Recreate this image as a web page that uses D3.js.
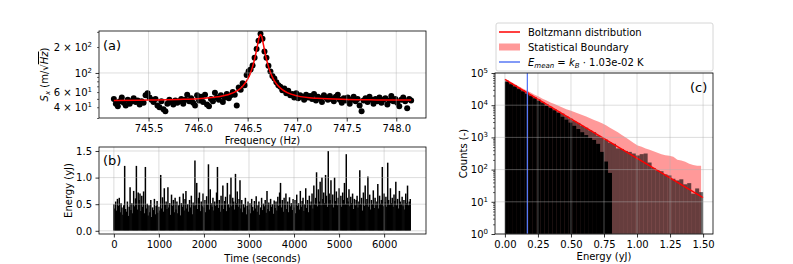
<!DOCTYPE html>
<html lang="en">
<head>
<meta charset="UTF-8">
<title>Resonance, energy trace and energy histogram</title>
<script src="https://d3js.org/d3.v7.min.js"></script>
<style>
  body { margin: 0; background: #fff; }
  svg { display: block; font-family: "DejaVu Sans", sans-serif; }
</style>
</head>
<body>
<svg id="fig" width="793" height="264"></svg>
<script>
// ---------- (a) spectrum around the resonance ----------
const specStart = 745.15;   // first frequency bin (Hz)
const specStep = 0.02;      // bin spacing (Hz)
const specValue = [
  50,44,41,47,52,45,42,49,44,47,
  51,46,48,43,47,45,55,58,52,49,
  46,50,42,40,47,38,36,44,49,46,
  43,48,45,47,50,44,49,56,47,51,
  45,42,55,48,53,46,56,43,41,50,
  47,59,52,49,55,46,52,57,51,55,
  60,56,42,68,64,76,72,95,105,110,
  122,150,190,236,285,250,178,150,121,104,
  92,86,78,72,69,63,66,58,62,55,
  57,52,58,51,55,53,49,56,52,54,
  50,57,48,53,51,46,55,52,49,54,
  50,47,53,56,49,45,51,48,52,44,
  49,53,47,50,42,36,48,51,46,53,
  49,44,50,47,52,45,49,51,43,48,
  54,47,50,45,41,49,52,47,39,50,
  48
];
// fitted curve
const fitFreq = [745.15,745.5,745.8,746.0,746.2,746.3,746.4,746.45,746.5,746.53,746.56,746.58,746.6,746.62,746.63,
                 746.64,746.66,746.68,746.7,746.73,746.76,746.8,746.85,746.9,747.0,747.2,747.5,747.8,748.15];
const fitValue = [47.9,48.5,49.2,50.1,52.9,55.8,62.7,70.2,84.7,100.9,129.7,162.3,212,269,280,
                  269,212,162,130,101,84.7,72.3,63.9,59.1,54.2,50.7,49.2,48.7,48.4];
const freqTicks = [745.5,746.0,746.5,747.0,747.5,748.0];

// ---------- (b) energy trace ----------
const traceStep = 20;  // seconds between samples
const energyValues = [
  0.50,0.42,0.55,0.38,0.60,0.47,0.62,0.35,0.52,0.44,
  0.30,0.48,1.22,0.41,0.36,0.55,0.28,0.45,0.82,0.39,
  0.52,0.33,0.75,0.46,0.61,1.22,0.40,0.72,0.58,0.70,
  0.37,0.66,0.45,0.74,0.33,1.20,0.42,0.51,0.29,0.48,
  0.35,0.58,0.26,0.44,0.39,0.60,0.31,0.47,0.56,0.34,
  0.45,0.38,1.05,0.42,0.63,0.36,0.80,0.49,0.55,0.41,
  0.82,0.44,0.52,0.30,0.68,0.47,0.58,0.35,0.62,0.40,
  0.55,0.33,0.48,0.64,0.29,0.52,0.45,0.70,0.38,0.60,
  0.75,0.42,0.50,0.36,0.58,0.44,0.66,0.31,0.53,0.47,
  1.32,0.48,0.90,0.41,0.62,0.72,0.37,0.55,0.46,0.70,
  0.44,0.58,0.35,0.65,0.49,1.25,0.40,0.78,0.52,0.45,
  0.62,0.38,0.55,0.47,0.72,1.20,0.43,0.58,0.36,0.66,
  0.48,0.85,0.41,0.56,0.64,0.37,0.90,0.50,0.44,0.68,
  1.00,0.46,0.62,0.55,0.40,1.07,0.52,0.74,0.45,0.60,
  0.95,0.42,0.58,0.35,0.50,0.44,0.62,0.31,0.47,0.55,
  0.40,0.52,0.33,0.60,0.45,0.38,0.56,0.42,0.65,0.36,
  0.48,0.55,0.30,0.44,0.62,0.39,0.51,0.46,0.58,0.34,
  0.75,0.41,0.53,0.37,0.60,0.45,0.50,0.32,0.57,0.43,
  0.55,0.38,0.64,0.47,0.72,0.90,0.44,0.58,0.36,0.62,
  0.49,0.70,0.41,0.55,0.35,0.63,0.46,0.52,0.39,0.60,
  0.44,0.58,0.33,0.68,0.47,0.52,0.40,0.75,0.45,0.56,
  0.62,0.37,0.50,0.80,0.43,0.58,0.35,0.66,0.48,0.55,
  0.70,0.42,0.85,0.50,0.62,1.10,0.46,0.78,0.55,0.92,
  0.48,1.00,0.60,0.72,0.52,1.05,0.66,0.45,1.50,0.70,
  0.58,0.95,0.50,0.68,0.44,1.00,0.56,0.74,0.48,0.62,
  0.80,0.52,0.66,0.45,0.72,0.58,0.90,0.50,1.44,0.62,
  0.55,0.78,0.46,0.64,0.52,0.70,0.41,0.60,0.48,0.58,
  0.66,0.44,0.55,1.14,0.50,0.62,0.38,0.72,0.47,0.85,
  0.52,0.60,1.02,0.45,0.68,0.40,0.58,0.50,0.76,0.43,
  0.62,0.48,0.55,0.88,0.42,0.66,0.51,0.58,1.20,0.46,
  0.70,0.54,0.64,0.45,1.28,0.58,0.49,0.80,0.52,0.62,
  0.45,0.68,0.56,0.92,0.48,0.60,0.42,0.75,0.55,0.50,
  0.64,0.46,0.58,0.40,0.70,0.52,0.85,0.48,0.55,0.60
];
const timeTicks = [0,1000,2000,3000,4000,5000,6000];
const energyTicks = [0,0.5,1.0,1.5];

// ---------- (c) energy histogram ----------
const binWidth = 0.03;  // yJ
const histAll = [57500,49000,41700,34700,29500,25100,20900,17800,15100,12600,
  10700,8910,7590,6310,5500,4570,3890,3240,2820,2290,
  2000,1660,1450,1150,1000,851,692,631,457,437,
  380,355,316,275,302,316,166,112,95,89,
  71,66,52,46,50,35,38,18,26,20];
const histLow = [52500,44700,38000,31600,26900,22400,19100,16200,13500,11500,
  9550,8130,6920,5750,4370,3550,2880,2290,1820,1450,
  1180,977,832,631,355,178,79,0,0,0,
  0,0,0,0,0,0,0,0,0,0,
  0,0,0,0,0,0,0,0,0,0];
const bandUpper = [61700,53100,45300,38700,33100,28600,24700,21300,18500,16000,
  14100,12200,10800,9530,8430,7450,6800,6100,5500,4950,
  4450,3950,3500,3100,2750,2400,2000,1700,1450,1180,
  1000,809,667,564,509,451,417,369,334,302,
  280,271,251,203,192,174,153,139,132,131];
const boltzE = [0, 1.5];
const boltzN = [63000, 13.5];
const meanEnergy = 0.17;
const histXTicks = [0,0.25,0.5,0.75,1.0,1.25,1.5];
const histYTicks = [1,10,100,1000,10000,100000];

// ---------- helpers ----------
const fig = d3.select("#fig");
const FONT = "DejaVu Sans, sans-serif";
const GRID = "#b0b0b0";

function clip(id, box) {
  fig.append("clipPath").attr("id", id).append("rect")
    .attr("x", box.l).attr("y", box.t).attr("width", box.r - box.l).attr("height", box.b - box.t);
}
function spines(box) {
  fig.append("rect").attr("x", box.l).attr("y", box.t)
    .attr("width", box.r - box.l).attr("height", box.b - box.t)
    .attr("fill", "none").attr("stroke", "#000").attr("stroke-width", 0.8);
}
function grid(box, x, y, xs, ys) {
  const g = fig.append("g").attr("stroke", GRID).attr("stroke-opacity", 0.55).attr("stroke-width", 0.8);
  g.selectAll(".gx").data(xs).join("line")
    .attr("x1", d => x(d)).attr("x2", d => x(d)).attr("y1", box.t).attr("y2", box.b);
  g.selectAll(".gy").data(ys).join("line")
    .attr("y1", d => y(d)).attr("y2", d => y(d)).attr("x1", box.l).attr("x2", box.r);
}
function styleAxis(g, width) {
  g.attr("font-family", FONT).attr("font-size", 10);
  g.select(".domain").remove();
  g.selectAll(".tick line").attr("stroke-width", width || 0.8);
}
function powLabel(text, mant, exp) {
  text.text(null);
  text.append("tspan").text(mant ? mant + " \u00d7 10" : "10");
  text.append("tspan").attr("dy", -4).attr("font-size", 7).text(exp);
}

// ========== panel (a) ==========
const boxA = {l: 99, r: 426, t: 31, b: 118};
const xA = d3.scaleLinear().domain([745.0, 748.3]).range([boxA.l, boxA.r]);
const yA = d3.scaleLog().domain([30, 307]).range([boxA.b, boxA.t]);
clip("clipA", boxA);

const specPts = specValue.map((v, i) => ({f: specStart + i * specStep, v}));
fig.append("g").attr("clip-path", "url(#clipA)")
  .selectAll("circle").data(specPts).join("circle")
  .attr("cx", d => xA(d.f)).attr("cy", d => yA(d.v)).attr("r", 3).attr("fill", "#000");

fig.append("path").attr("clip-path", "url(#clipA)")
  .datum(fitFreq.map((f, i) => [f, fitValue[i]]))
  .attr("fill", "none").attr("stroke", "red").attr("stroke-width", 1.5)
  .attr("d", d3.line().x(d => xA(d[0])).y(d => yA(d[1])).curve(d3.curveMonotoneX));

grid(boxA, xA, yA, freqTicks, [100]);
spines(boxA);

const axA = fig.append("g").attr("transform", `translate(0,${boxA.b})`)
  .call(d3.axisBottom(xA).tickValues(freqTicks).tickFormat(d3.format(".1f")).tickSize(3.5).tickPadding(3.5));
styleAxis(axA);

const yLabA = [[100, null, "2"], [200, "2", "2"], [60, "6", "1"], [40, "4", "1"]];
const ayA = fig.append("g").attr("transform", `translate(${boxA.l},0)`)
  .call(d3.axisLeft(yA).tickValues(yLabA.map(d => d[0])).tickSize(3.5).tickPadding(3.5));
styleAxis(ayA);
ayA.selectAll(".tick text").each(function (d) {
  const e = yLabA.find(q => q[0] === d);
  powLabel(d3.select(this), e[1], e[2]);
});
ayA.selectAll(".tick line").filter(d => d !== 100).attr("x2", -2).attr("stroke-width", 0.6);
const minorA = fig.append("g").attr("transform", `translate(${boxA.l},0)`)
  .call(d3.axisLeft(yA).tickValues([30, 50, 70, 80, 90, 300]).tickSize(2).tickFormat(""));
styleAxis(minorA, 0.6);

fig.append("text").attr("x", 103).attr("y", 50).attr("font-size", 13).attr("font-family", FONT).text("(a)");
fig.append("text").attr("x", (boxA.l + boxA.r) / 2).attr("y", 144).attr("text-anchor", "middle")
  .attr("font-size", 10).attr("font-family", FONT).text("Frequency (Hz)");
const ylA = fig.append("text").attr("transform", `translate(48,${(boxA.t + boxA.b) / 2}) rotate(-90)`)
  .attr("text-anchor", "middle").attr("font-size", 10).attr("font-family", FONT);
ylA.append("tspan").attr("font-style", "italic").text("S");
ylA.append("tspan").attr("font-style", "italic").attr("font-size", 7).attr("dy", 2).text("x");
ylA.append("tspan").attr("dy", -2).text(" (m/\u221a");
ylA.append("tspan").attr("font-style", "italic").style("text-decoration", "overline").text("Hz");
ylA.append("tspan").text(")");

// ========== panel (b) ==========
const boxB = {l: 99, r: 426, t: 147, b: 234};
const xB = d3.scaleLinear().domain([-330, 6930]).range([boxB.l, boxB.r]);
const yB = d3.scaleLinear().domain([-0.06, 1.575]).range([boxB.b, boxB.t]);
clip("clipB", boxB);

fig.append("g").attr("clip-path", "url(#clipB)")
  .selectAll("line").data(energyValues).join("line")
  .attr("x1", (d, i) => xB(i * traceStep)).attr("x2", (d, i) => xB(i * traceStep))
  .attr("y1", yB(0)).attr("y2", d => yB(d))
  .attr("stroke", "#000").attr("stroke-width", 1.5);

grid(boxB, xB, yB, timeTicks, energyTicks);
spines(boxB);

const axB = fig.append("g").attr("transform", `translate(0,${boxB.b})`)
  .call(d3.axisBottom(xB).tickValues(timeTicks).tickFormat(d3.format("d")).tickSize(3.5).tickPadding(3.5));
styleAxis(axB);
const ayB = fig.append("g").attr("transform", `translate(${boxB.l},0)`)
  .call(d3.axisLeft(yB).tickValues(energyTicks).tickFormat(d3.format(".1f")).tickSize(3.5).tickPadding(3.5));
styleAxis(ayB);

fig.append("text").attr("x", 103).attr("y", 165).attr("font-size", 13).attr("font-family", FONT).text("(b)");
fig.append("text").attr("x", (boxB.l + boxB.r) / 2).attr("y", 262).attr("text-anchor", "middle")
  .attr("font-size", 10).attr("font-family", FONT).text("Time (seconds)");
fig.append("text").attr("transform", `translate(72,${(boxB.t + boxB.b) / 2}) rotate(-90)`)
  .attr("text-anchor", "middle").attr("font-size", 10).attr("font-family", FONT).text("Energy (yJ)");

// ========== panel (c) ==========
const boxC = {l: 495, r: 713, t: 73, b: 234};
const xC = d3.scaleLinear().domain([-0.075, 1.575]).range([boxC.l, boxC.r]);
const yC = d3.scaleLog().domain([1, 1e5]).range([boxC.b, boxC.t]);
clip("clipC", boxC);
const gC = fig.append("g").attr("clip-path", "url(#clipC)");

// statistical boundary band
gC.append("path")
  .datum(bandUpper.map((v, i) => [(i + 0.5) * binWidth, v]))
  .attr("fill", "red").attr("fill-opacity", 0.4)
  .attr("d", d3.area().x(d => xC(d[0])).y0(boxC.b).y1(d => yC(d[1])));

const bw = xC(binWidth) - xC(0);
gC.append("g").attr("fill", "#000").attr("fill-opacity", 0.6)
  .selectAll("rect").data(histAll).join("rect")
  .attr("x", (d, i) => xC(i * binWidth)).attr("width", bw + 0.05)
  .attr("y", d => yC(d)).attr("height", d => boxC.b - yC(d));
gC.append("g").attr("fill", "#000")
  .selectAll("rect").data(histLow.filter(d => d > 0)).join("rect")
  .attr("x", (d, i) => xC(i * binWidth)).attr("width", bw + 0.05)
  .attr("y", d => yC(d)).attr("height", d => boxC.b - yC(d));

gC.append("path").datum(boltzE.map((e, i) => [e, boltzN[i]]))
  .attr("fill", "none").attr("stroke", "red").attr("stroke-width", 1.5)
  .attr("d", d3.line().x(d => xC(d[0])).y(d => yC(d[1])));
gC.append("line").attr("x1", xC(meanEnergy)).attr("x2", xC(meanEnergy))
  .attr("y1", boxC.t).attr("y2", boxC.b).attr("stroke", "#5878f5").attr("stroke-width", 1.3);

grid(boxC, xC, yC, histXTicks, histYTicks);
spines(boxC);

const axC = fig.append("g").attr("transform", `translate(0,${boxC.b})`)
  .call(d3.axisBottom(xC).tickValues(histXTicks).tickFormat(d3.format(".2f")).tickSize(3.5).tickPadding(3.5));
styleAxis(axC);
const ayC = fig.append("g").attr("transform", `translate(${boxC.l},0)`)
  .call(d3.axisLeft(yC).tickValues(histYTicks).tickSize(3.5).tickPadding(3.5));
styleAxis(ayC);
ayC.selectAll(".tick text").each(function (d) {
  powLabel(d3.select(this), null, String(Math.round(Math.log10(d))));
});
const minorCVals = [];
[1, 10, 100, 1000, 10000].forEach(dec => { for (let k = 2; k <= 9; k++) minorCVals.push(k * dec); });
const minorC = fig.append("g").attr("transform", `translate(${boxC.l},0)`)
  .call(d3.axisLeft(yC).tickValues(minorCVals).tickSize(2).tickFormat(""));
styleAxis(minorC, 0.6);

fig.append("text").attr("x", 690).attr("y", 92).attr("font-size", 13).attr("font-family", FONT).text("(c)");
fig.append("text").attr("x", (boxC.l + boxC.r) / 2).attr("y", 260).attr("text-anchor", "middle")
  .attr("font-size", 10).attr("font-family", FONT).text("Energy (yJ)");
fig.append("text").attr("transform", `translate(467,${(boxC.t + boxC.b) / 2}) rotate(-90)`)
  .attr("text-anchor", "middle").attr("font-size", 10).attr("font-family", FONT).text("Counts (-)");

// legend
const leg = fig.append("g").attr("font-family", FONT).attr("font-size", 10);
leg.append("rect").attr("x", 496).attr("y", 23).attr("width", 217).attr("height", 48).attr("rx", 2)
  .attr("fill", "#fff").attr("fill-opacity", 0.8).attr("stroke", "#cccccc").attr("stroke-width", 0.8);
leg.append("line").attr("x1", 499).attr("x2", 520).attr("y1", 32).attr("y2", 32)
  .attr("stroke", "red").attr("stroke-width", 1.5);
leg.append("rect").attr("x", 499).attr("y", 43.5).attr("width", 21).attr("height", 7)
  .attr("fill", "red").attr("fill-opacity", 0.4);
leg.append("line").attr("x1", 499).attr("x2", 520).attr("y1", 62).attr("y2", 62)
  .attr("stroke", "#5878f5").attr("stroke-width", 1.5);
leg.append("text").attr("x", 528).attr("y", 32).attr("dy", "0.35em").text("Boltzmann distribution");
leg.append("text").attr("x", 528).attr("y", 47).attr("dy", "0.35em").text("Statistical Boundary");
const lt = leg.append("text").attr("x", 528).attr("y", 62).attr("dy", "0.35em");
lt.append("tspan").attr("font-style", "italic").text("E");
lt.append("tspan").attr("font-style", "italic").attr("font-size", 7).attr("dy", 2).text("mean");
lt.append("tspan").attr("dy", -2).text(" = ");
lt.append("tspan").attr("font-style", "italic").text("k");
lt.append("tspan").attr("font-style", "italic").attr("font-size", 7).attr("dy", 2).text("B");
lt.append("tspan").attr("dy", -2).text(" \u00b7 1.03e-02 K");
</script>
</body>
</html>
